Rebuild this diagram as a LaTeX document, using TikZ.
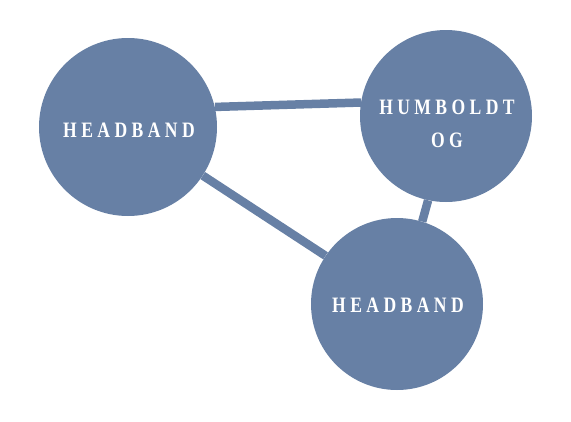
\documentclass[tikz,border=0pt]{standalone}
\usepackage{fontspec}
\newfontfamily\bandfont{Liberation Serif}[FakeStretch=0.8, LetterSpace=20]
\usetikzlibrary{backgrounds}
\definecolor{bandblue}{RGB}{103,128,165}
\tikzset{
  topic/.style={circle, fill=bandblue, inner sep=0pt},
  caption/.style={text=white, inner sep=0pt, align=center,
    font=\fontsize{22}{33}\selectfont\bandfont\bfseries},
  link/.style={draw=bandblue, line width=8.5pt}
}
\begin{document}
\begin{tikzpicture}[x=1pt, y=-1pt]
  \useasboundingbox (0,0) rectangle (571,421);
  \node[topic, minimum size=178pt] (head1) at (128,127) {};
  \node[topic, minimum size=172pt] (humb) at (446,116) {};
  \node[topic, minimum size=172pt] (head2) at (397,304) {};
  \node[caption] (head1-text) at (129,130) {HEADBAND};
  \node[caption] (humb-text) at (447,124) {HUMBOLDT\\OG};
  \node[caption] (head2-text) at (398,305) {HEADBAND};
  \begin{pgfonlayer}{background}
    \draw[link] (head1.13) -- (humb.171);
    \draw[link] (head1.-33.5) -- (head2.146.5);
    \draw[link] (humb.-102.7) -- (head2.73);
  \end{pgfonlayer}
\end{tikzpicture}
\end{document}
